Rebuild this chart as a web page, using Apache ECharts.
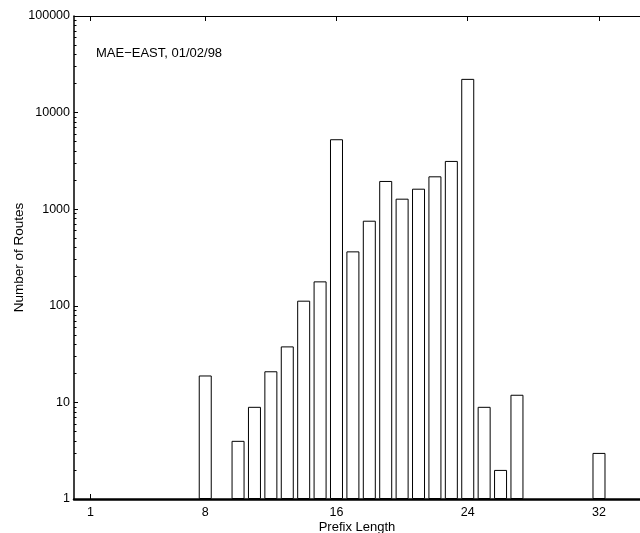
<!DOCTYPE html>
<html>
<head>
<meta charset="utf-8">
<title>Prefix Length</title>
<script src="https://cdn.jsdelivr.net/npm/echarts@6/dist/echarts.min.js"></script>
<style>
  html, body { margin: 0; padding: 0; background: #fff; }
  #chart { width: 640px; height: 533px; }
</style>
</head>
<body>
<div id="chart"></div>
<script>
// prefix lengths and route counts
const prefixLengths = [8, 10, 11, 12, 13, 14, 15, 16, 17, 18, 19, 20, 21, 22, 23, 24, 25, 26, 27, 32];
const routeCounts = [19, 4, 9, 21, 38, 113, 179, 5300, 366, 760, 1960, 1285, 1630, 2190, 3160, 22350, 9, 2, 12, 3];

// tick labels
const xTicks = [1, 8, 16, 24, 32];
const yMinorTicks = [];
[1, 10, 100, 1000, 10000].forEach(d => {
    for (let k = 2; k <= 9; k++) yMinorTicks.push(d * k);
});

const font = 'Liberation Sans, Arial, sans-serif';

const chart = echarts.init(document.getElementById('chart'));

const option = {
    animation: false,
    title: {
        text: 'MAE\u2212EAST, 01/02/98',
        left: 91,
        top: 42,
        textStyle: { fontFamily: font, fontSize: 13, fontWeight: 'normal', color: '#000' }
    },
    grid: { left: 74, right: 0, top: 16, bottom: 34, outerBoundsMode: 'none', containLabel: false },
    xAxis: [
        {
            type: 'value',
            position: 'bottom',
            min: 0,
            max: 34.5,
            name: 'Prefix Length',
            nameLocation: 'middle',
            nameGap: 22,
            nameMoveOverlap: false,
            nameTextStyle: { fontFamily: font, fontSize: 13, color: '#000' },
            axisLine: { show: true, lineStyle: { color: '#000', width: 2.5 } },
            axisTick: { show: true, inside: true, length: 5, customValues: xTicks, lineStyle: { color: '#000' } },
            axisLabel: { customValues: xTicks, margin: 7, fontFamily: font, fontSize: 12.5, color: '#000' },
            splitLine: { show: false }
        },
        {
            type: 'value',
            position: 'top',
            min: 0,
            max: 34.5,
            axisLine: { show: true, lineStyle: { color: '#000', width: 1.2 } },
            axisTick: { show: true, inside: true, length: 5, customValues: xTicks, lineStyle: { color: '#000' } },
            axisLabel: { show: false },
            splitLine: { show: false }
        }
    ],
    yAxis: [
        {
            type: 'log',
            logBase: 10,
            min: 1,
            max: 100000,
            name: 'Number of Routes',
            nameLocation: 'middle',
            nameGap: 48,
            nameMoveOverlap: false,
            nameTextStyle: { fontFamily: font, fontSize: 13.5, color: '#000' },
            axisLine: { show: true, lineStyle: { color: '#000', width: 1.5 } },
            axisTick: { show: true, inside: true, length: 4, lineStyle: { color: '#000' } },
            axisLabel: { margin: 4, fontFamily: font, fontSize: 12.5, color: '#000', formatter: v => String(v) },
            splitLine: { show: false }
        },
        {
            type: 'log',
            logBase: 10,
            min: 1,
            max: 100000,
            position: 'left',
            axisLine: { show: false },
            axisTick: { show: true, inside: true, length: 2.5, customValues: yMinorTicks, lineStyle: { color: '#000' } },
            axisLabel: { show: false },
            splitLine: { show: false }
        }
    ],
    series: [
        {
            type: 'bar',
            xAxisIndex: 0,
            yAxisIndex: 0,
            barWidth: 13,
            data: prefixLengths.map((p, i) => [p, routeCounts[i]]),
            itemStyle: { color: '#fff', borderColor: '#000', borderWidth: 1 },
            z: 1
        }
    ]
};

chart.setOption(option);
</script>
</body>
</html>
